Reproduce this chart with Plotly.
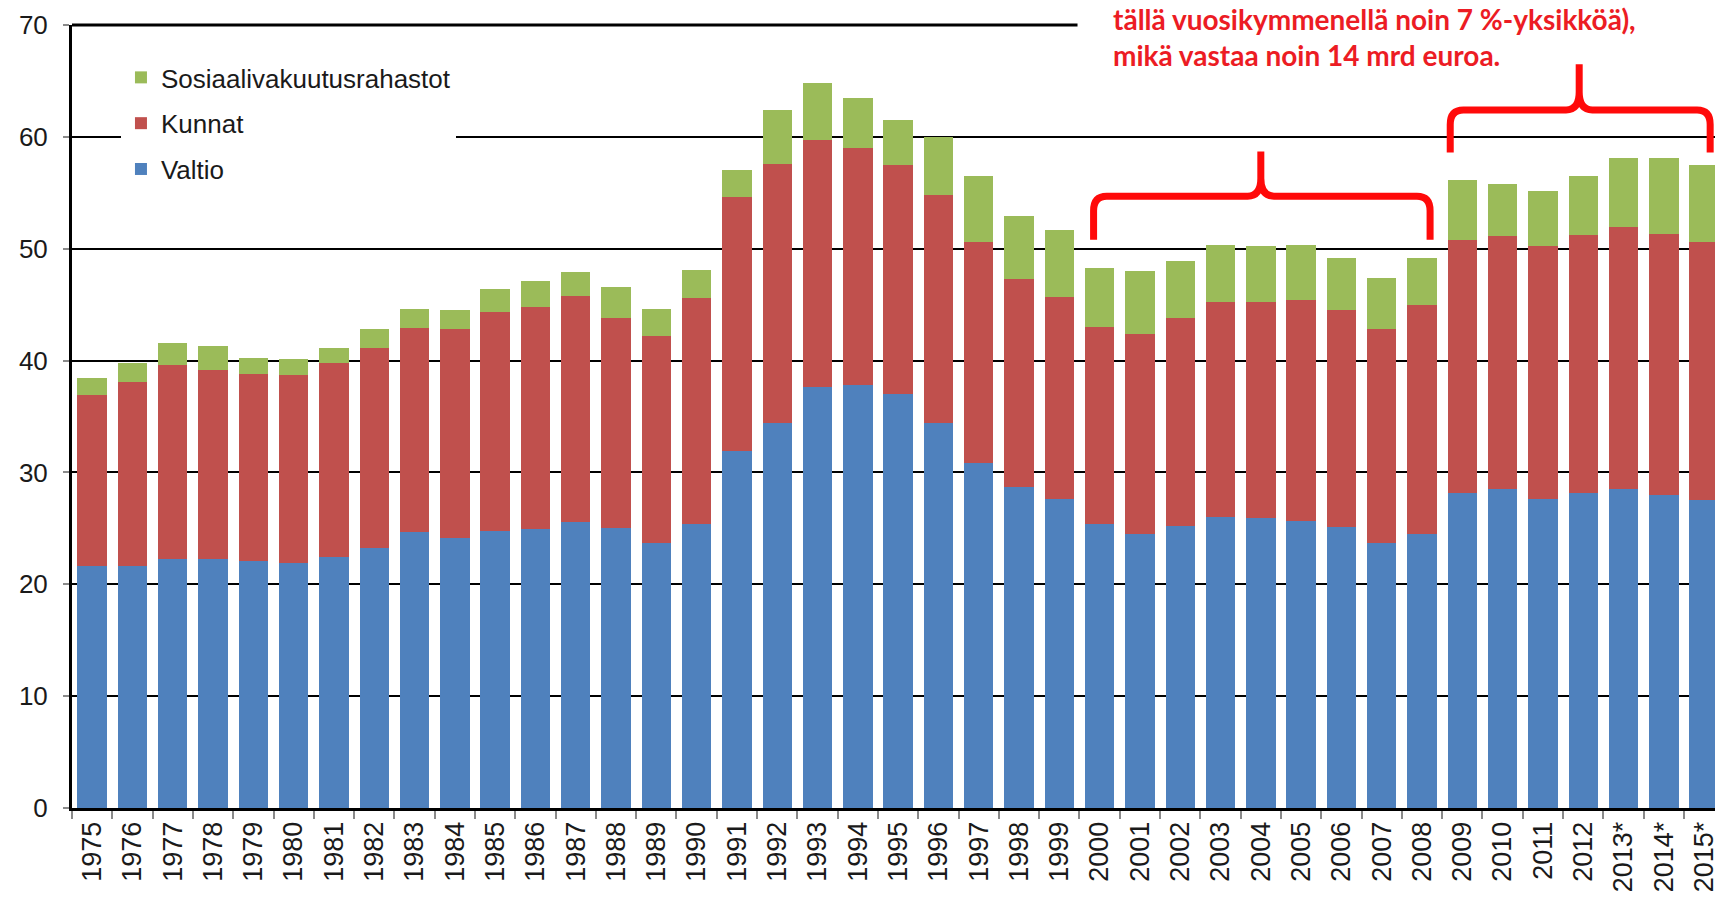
import plotly.graph_objects as go

# ---- data ----
years = ["1975", "1976", "1977", "1978", "1979", "1980", "1981", "1982", "1983", "1984",
         "1985", "1986", "1987", "1988", "1989", "1990", "1991", "1992", "1993", "1994",
         "1995", "1996", "1997", "1998", "1999", "2000", "2001", "2002", "2003", "2004",
         "2005", "2006", "2007", "2008", "2009", "2010", "2011", "2012", "2013*", "2014*",
         "2015*"]

valtio = [21.6, 21.6, 22.3, 22.3, 22.1, 21.9, 22.4, 23.2, 24.7, 24.1,
          24.8, 24.9, 25.6, 25.0, 23.7, 25.4, 31.9, 34.4, 37.6, 37.8,
          37.0, 34.4, 30.8, 28.7, 27.6, 25.4, 24.5, 25.2, 26.0, 25.9,
          25.7, 25.1, 23.7, 24.5, 28.2, 28.5, 27.6, 28.2, 28.5, 28.0,
          27.5]

kunnat = [15.3, 16.5, 17.3, 16.9, 16.7, 16.8, 17.4, 17.9, 18.2, 18.7,
          19.5, 19.9, 20.2, 18.8, 18.5, 20.2, 22.7, 23.2, 22.1, 21.2,
          20.5, 20.4, 19.8, 18.6, 18.1, 17.6, 17.9, 18.6, 19.2, 19.3,
          19.7, 19.4, 19.1, 20.5, 22.6, 22.6, 22.6, 23.0, 23.4, 23.3,
          23.1]

sosiaali = [1.5, 1.7, 2.0, 2.1, 1.4, 1.4, 1.3, 1.7, 1.7, 1.7,
            2.1, 2.3, 2.1, 2.8, 2.4, 2.5, 2.4, 4.8, 5.1, 4.5,
            4.0, 5.2, 5.9, 5.6, 6.0, 5.3, 5.6, 5.1, 5.1, 5.0,
            4.9, 4.7, 4.6, 4.2, 5.3, 4.7, 5.0, 5.3, 6.2, 6.8,
            6.9]

series_names = ["Valtio", "Kunnat", "Sosiaalivakuutusrahastot"]
series_values = [valtio, kunnat, sosiaali]
series_colors = ["#4F81BD", "#C0504D", "#9BBB59"]
legend_ranks = [3, 2, 1]

y_ticks = [0, 10, 20, 30, 40, 50, 60, 70]

note_lines = ["tällä vuosikymmenellä noin 7 %-yksikköä),",
              "mikä vastaa noin 14 mrd euroa."]

# ---- figure ----
W, H = 1719, 899
X_MIN, X_MAX = -0.5, 40.27
FONT = "Liberation Sans, Arial, sans-serif"

fig = go.Figure()
for name, vals, col, rk in zip(series_names, series_values, series_colors, legend_ranks):
    fig.add_trace(go.Bar(x=years, y=vals, name=name, marker_color=col,
                         marker_line_width=0, legendgroup=name, legendrank=rk))


def px_(i):
    return (i - X_MIN) / (X_MAX - X_MIN)


def brace(il, ir, ic, y_end, y_h, y_top, d=0.008, dy=1.3, e=1.6):
    xl, xr, xc = px_(il), px_(ir), px_(ic)
    return (f"M{xl},{y_end} L{xl},{y_h - dy} Q{xl},{y_h} {xl + d},{y_h} "
            f"L{xc - d},{y_h} Q{xc},{y_h} {xc},{y_h + e} L{xc},{y_top} "
            f"M{xc},{y_h + e} Q{xc},{y_h} {xc + d},{y_h} "
            f"L{xr - d},{y_h} Q{xr},{y_h} {xr},{y_h - dy} L{xr},{y_end}")


shapes = [
    dict(type="line", xref="paper", yref="paper", x0=0, x1=0.612, y0=1, y1=1,
         line=dict(color="black", width=3), layer="above"),
    dict(type="path", xref="paper", yref="y",
         path=brace(24.85, 33.2, 29.0, 50.8, 54.7, 58.7),
         line=dict(color="#FF0A0A", width=7), layer="above"),
    dict(type="path", xref="paper", yref="y",
         path=brace(33.7, 40.15, 36.9, 58.6, 62.4, 66.5),
         line=dict(color="#FF0A0A", width=7), layer="above"),
]

annotations = [
    dict(xref="paper", yref="paper", x=0.633, y=1.031, xanchor="left", yanchor="top",
         align="left", text="<b>" + "<br>".join(note_lines) + "</b>", showarrow=False,
         borderpad=0,
         font=dict(family="Lato, sans-serif", size=28, color="#EC1C24")),
]

fig.update_layout(
    width=W, height=H,
    margin=dict(l=72, r=0, t=25, b=91, pad=0),
    paper_bgcolor="white", plot_bgcolor="white",
    barmode="stack", bargap=0.27,
    font=dict(family=FONT, size=26, color="#1a1a1a"),
    showlegend=True,
    legend=dict(x=0.0298, y=0.963, xanchor="left", yanchor="top",
                bgcolor="white", borderwidth=0, traceorder="grouped",
                tracegroupgap=9, font=dict(family=FONT, size=26, color="#1a1a1a")),
    xaxis=dict(type="category", range=[X_MIN, X_MAX], tickangle=-90,
               tickson="boundaries", ticks="outside", ticklen=8, tickwidth=1.5,
               tickcolor="#8a8a8a", showgrid=False, showline=True,
               linecolor="black", linewidth=3, zeroline=False,
               tickfont=dict(family=FONT, size=27, color="#1a1a1a")),
    yaxis=dict(range=[0, 70], tickvals=y_ticks, ticks="outside", ticklen=6,
               tickwidth=1.5, tickcolor="#8a8a8a", showgrid=True, gridcolor="black",
               gridwidth=2, showline=True, linecolor="black", linewidth=3,
               zeroline=False, ticklabelstandoff=10,
               tickfont=dict(family=FONT, size=26, color="#1a1a1a")),
    shapes=shapes,
    annotations=annotations,
)

fig.write_html("out.html", config={"displayModeBar": False},
               post_script="document.body.style.margin='0';")
